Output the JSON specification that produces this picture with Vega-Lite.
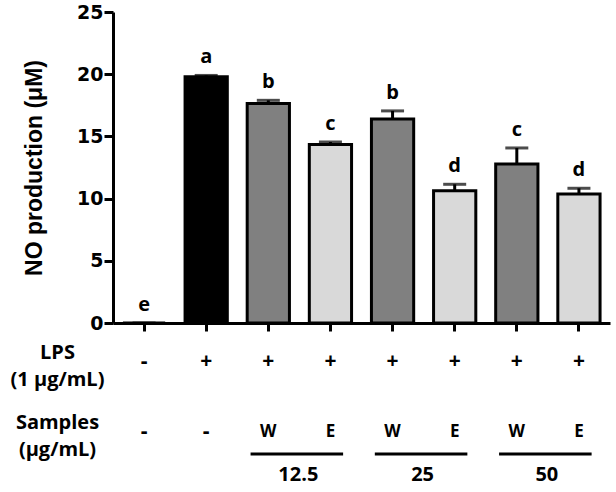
{
  "$schema": "https://vega.github.io/schema/vega-lite/v6.json",
  "background": "white",
  "padding": {"left": 10, "top": 3, "right": 5, "bottom": 8},
  "config": {"view": {"stroke": null}, "font": "Open Sans"},
  "datasets": {
    "bars": [
      {"g": "g1", "treat": "Control", "mean": 0, "upper": 0, "letter": "e"},
      {"g": "g2", "treat": "LPS", "mean": 19.8, "upper": 19.9, "letter": "a"},
      {"g": "g3", "treat": "W", "mean": 17.65, "upper": 17.9, "letter": "b"},
      {"g": "g4", "treat": "E", "mean": 14.35, "upper": 14.55, "letter": "c"},
      {"g": "g5", "treat": "W", "mean": 16.4, "upper": 17.05, "letter": "b"},
      {"g": "g6", "treat": "E", "mean": 10.63, "upper": 11.15, "letter": "d"},
      {"g": "g7", "treat": "W", "mean": 12.78, "upper": 14.07, "letter": "c"},
      {"g": "g8", "treat": "E", "mean": 10.36, "upper": 10.83, "letter": "d"}
    ],
    "table": [
      {"g": "g1", "row": "LPS", "sym": "-"},
      {"g": "g2", "row": "LPS", "sym": "+"},
      {"g": "g3", "row": "LPS", "sym": "+"},
      {"g": "g4", "row": "LPS", "sym": "+"},
      {"g": "g5", "row": "LPS", "sym": "+"},
      {"g": "g6", "row": "LPS", "sym": "+"},
      {"g": "g7", "row": "LPS", "sym": "+"},
      {"g": "g8", "row": "LPS", "sym": "+"},
      {"g": "g1", "row": "Samples", "sym": "-"},
      {"g": "g2", "row": "Samples", "sym": "-"},
      {"g": "g3", "row": "Samples", "sym": "W"},
      {"g": "g4", "row": "Samples", "sym": "E"},
      {"g": "g5", "row": "Samples", "sym": "W"},
      {"g": "g6", "row": "Samples", "sym": "E"},
      {"g": "g7", "row": "Samples", "sym": "W"},
      {"g": "g8", "row": "Samples", "sym": "E"}
    ],
    "doses": [
      {"dose": "12.5", "w": "g3", "e": "g4"},
      {"dose": "25", "w": "g5", "e": "g6"},
      {"dose": "50", "w": "g7", "e": "g8"}
    ]
  },
  "vconcat": [
    {
      "width": 497,
      "height": 311,
      "data": {"name": "bars"},
      "encoding": {
        "x": {
          "field": "g", "type": "nominal",
          "scale": {"domain": ["g1","g2","g3","g4","g5","g6","g7","g8"], "paddingInner": 0.32, "paddingOuter": 0.16},
          "axis": {"labels": false, "title": null, "tickSize": 8, "tickWidth": 3, "tickColor": "black", "domainWidth": 3, "domainColor": "black", "grid": false}
        }
      },
      "layer": [
        {
          "mark": {"type": "rule", "strokeWidth": 3, "color": "black"},
          "encoding": {
            "y": {
              "field": "mean", "type": "quantitative", "title": "NO production (μM)",
              "scale": {"domain": [0, 25], "nice": false},
              "axis": {
                "values": [0, 5, 10, 15, 20, 25], "tickSize": 9, "tickWidth": 3, "tickColor": "black",
                "domainWidth": 3, "domainColor": "black", "grid": false,
                "labelFont": "DejaVu Sans", "labelFontWeight": "bold", "labelFontSize": 19, "labelColor": "black", "labelPadding": 1,
                "titleFont": "Liberation Sans", "titleFontSize": 23, "titleFontWeight": "bold", "titleColor": "black", "titlePadding": 30
              }
            },
            "y2": {"field": "upper"}
          }
        },
        {
          "mark": {"type": "tick", "thickness": 3, "size": 23, "color": "black"},
          "encoding": {"y": {"field": "upper", "type": "quantitative", "title": "NO production (μM)"}}
        },
        {
          "mark": {"type": "bar", "stroke": "black", "strokeWidth": 3},
          "encoding": {
            "y": {"field": "mean", "type": "quantitative", "title": "NO production (μM)"},
            "fill": {"field": "treat", "type": "nominal", "scale": {"domain": ["Control","LPS","W","E"], "range": ["#ffffff","#000000","#808080","#d9d9d9"]}, "legend": null}
          }
        },
        {
          "mark": {"type": "text", "font": "Open Sans", "fontWeight": "bold", "fontSize": 20, "color": "black", "baseline": "alphabetic", "dy": -12},
          "encoding": {
            "y": {"field": "upper", "type": "quantitative", "title": "NO production (μM)"},
            "text": {"field": "letter"}
          }
        }
      ]
    },
    {
      "width": 497,
      "height": 70,
      "layer": [
        {
          "data": {"name": "table"},
          "mark": {"type": "text", "font": "Open Sans", "fontWeight": "bold", "color": "black", "baseline": "middle"},
          "encoding": {
            "x": {"field": "g", "type": "nominal", "scale": {"domain": ["g1","g2","g3","g4","g5","g6","g7","g8"], "paddingInner": 0.32, "paddingOuter": 0.16}, "axis": null},
            "y": {
              "field": "row", "type": "nominal",
              "scale": {"type": "point", "domain": ["LPS", "Samples"], "padding": 0},
              "axis": {
                "title": null, "domain": false, "ticks": false, "tickSize": 0, "labelAlign": "center", "labelPadding": 56, "labelOffset": -10,
                "labelFont": "Open Sans", "labelFontWeight": "bold", "labelFontSize": 20, "labelColor": "black", "labelLineHeight": 27,
                "labelExpr": "datum.value == 'LPS' ? ['LPS', '(1 μg/mL)'] : ['Samples', '(μg/mL)']"
              }
            },
            "text": {"field": "sym"},
            "size": {"condition": {"test": "datum.sym == 'W' || datum.sym == 'E'", "value": 17}, "value": 21}
          }
        },
        {
          "data": {"name": "doses"},
          "mark": {"type": "rule", "strokeWidth": 3, "color": "black", "yOffset": 22},
          "encoding": {
            "x": {"field": "w", "type": "nominal", "bandPosition": 0.08},
            "x2": {"field": "e", "bandPosition": 0.8},
            "y": {"datum": "Samples", "type": "nominal"}
          }
        },
        {
          "data": {"name": "doses"},
          "mark": {"type": "text", "font": "Open Sans", "fontWeight": "bold", "fontSize": 20, "color": "black", "baseline": "middle", "dx": 30, "dy": 43},
          "encoding": {
            "x": {"field": "w", "type": "nominal"},
            "y": {"datum": "Samples", "type": "nominal"},
            "text": {"field": "dose"}
          }
        }
      ]
    }
  ],
  "spacing": 39,
  "bounds": "flush",
  "resolve": {"scale": {"y": "independent", "x": "independent"}}
}
